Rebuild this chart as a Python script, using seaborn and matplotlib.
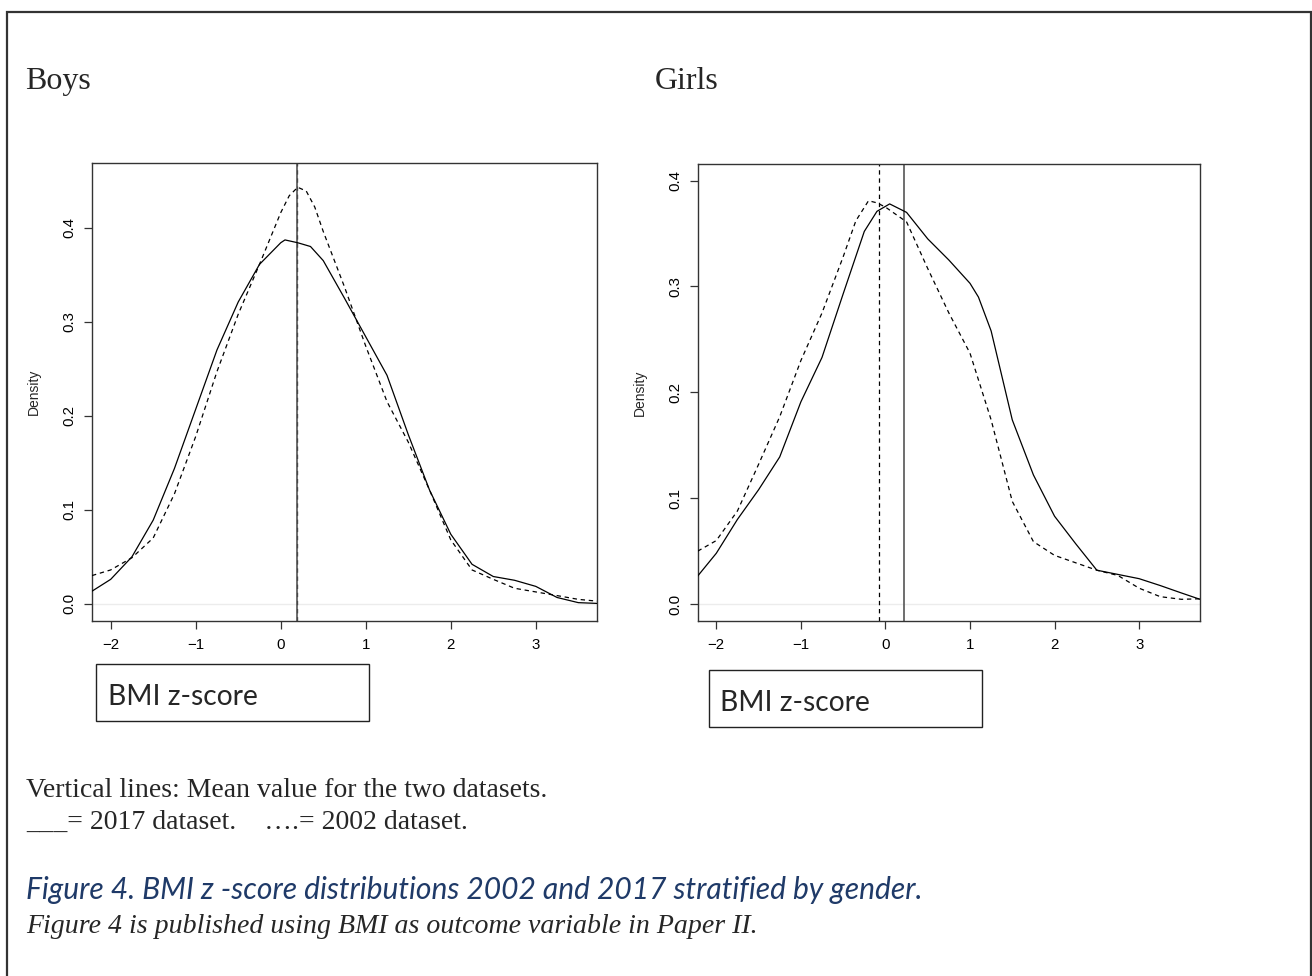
import matplotlib
matplotlib.use("Agg")
import matplotlib.pyplot as plt
from matplotlib.patches import Rectangle
import seaborn as sns
import pandas as pd

# ---------------- data ----------------
boys_x_2017 = [-2.22, -2.0, -1.75, -1.5, -1.25, -1.0, -0.75, -0.5, -0.25, 0.0, 0.05,
               0.2, 0.35, 0.5, 0.75, 1.0, 1.25, 1.5, 1.75, 2.0, 2.25, 2.5, 2.75,
               3.0, 3.25, 3.5, 3.72]
boys_2017 = [0.0134, 0.026, 0.050, 0.089, 0.144, 0.207, 0.270, 0.321, 0.361,
             0.384, 0.387, 0.384, 0.380, 0.365, 0.325, 0.284, 0.243, 0.180,
             0.121, 0.074, 0.042, 0.029, 0.025, 0.0185, 0.0067, 0.0012, 0.0004]
boys_x_2002 = [-2.22, -2.0, -1.75, -1.5, -1.25, -1.0, -0.75, -0.5, -0.25, 0.0, 0.1,
               0.2, 0.3, 0.4, 0.5, 0.75, 1.0, 1.25, 1.5, 1.75, 2.0, 2.25, 2.5,
               2.75, 3.0, 3.25, 3.5, 3.72]
boys_2002 = [0.030, 0.036, 0.049, 0.070, 0.117, 0.178, 0.247, 0.308, 0.361,
             0.416, 0.434, 0.443, 0.439, 0.422, 0.396, 0.337, 0.274, 0.215,
             0.172, 0.121, 0.068, 0.036, 0.026, 0.0165, 0.0126, 0.0087, 0.0047,
             0.0028]

girls_x_2017 = [-2.22, -2.0, -1.75, -1.5, -1.25, -1.0, -0.75, -0.5, -0.25, -0.1,
                0.05, 0.25, 0.5, 0.75, 1.0, 1.1, 1.25, 1.5, 1.75, 2.0, 2.25, 2.5,
                2.75, 3.0, 3.25, 3.5, 3.72]
girls_2017 = [0.0265, 0.048, 0.080, 0.108, 0.139, 0.191, 0.233, 0.293, 0.352,
              0.371, 0.378, 0.370, 0.345, 0.325, 0.303, 0.290, 0.258, 0.174,
              0.122, 0.083, 0.057, 0.032, 0.028, 0.024, 0.0175, 0.0105, 0.0045]
girls_x_2002 = [-2.22, -2.0, -1.75, -1.5, -1.25, -1.0, -0.75, -0.5, -0.35, -0.2,
                -0.1, 0.0, 0.25, 0.5, 0.75, 1.0, 1.25, 1.5, 1.75, 2.0, 2.25, 2.5,
                2.75, 3.0, 3.25, 3.5, 3.72]
girls_2002 = [0.050, 0.060, 0.088, 0.132, 0.177, 0.230, 0.275, 0.328, 0.362,
              0.381, 0.379, 0.375, 0.361, 0.317, 0.275, 0.237, 0.174, 0.097,
              0.059, 0.046, 0.039, 0.032, 0.027, 0.015, 0.007, 0.0045, 0.005]

boys_means = {"2017": 0.186, "2002": 0.186}
girls_means = {"2017": 0.218, "2002": -0.071}

x_ticks = [-2, -1, 0, 1, 2, 3]
boys_y_ticks = [0.0, 0.1, 0.2, 0.3, 0.4]
girls_y_ticks = [0.0, 0.1, 0.2, 0.3, 0.4]

panel_titles = ["Boys", "Girls"]
xlabel_text = "BMI z-score"
ylabel_text = "Density"
note_line1 = "Vertical lines: Mean value for the two datasets."
note_line2 = "___= 2017 dataset.    \u2026.= 2002 dataset."
caption1 = "Figure 4. BMI z -score distributions 2002 and 2017 stratified by gender."
caption2 = "Figure 4 is published using BMI as outcome variable in Paper II."

# ---------------- figure ----------------
sns.set_style("white")
plt.rcParams["font.family"] = ["Liberation Sans", "DejaVu Sans"]

W, H = 1312, 976
fig = plt.figure(figsize=(W / 100, H / 100), dpi=100)
fig.patch.set_facecolor("white")


def fx(px):
    return px / W


def fy(py):
    return 1 - py / H


def add_panel(left, right, top, bottom, x17, s2017, x02, s2002, means, yticks, ylim, dens_x):
    ax = fig.add_axes([fx(left), fy(bottom), fx(right - left), (bottom - top) / H])
    df17 = pd.DataFrame({"x": x17, "y": s2017})
    df02 = pd.DataFrame({"x": x02, "y": s2002})
    ax.axhline(0, color="#ececec", lw=1.0, zorder=1)
    sns.lineplot(data=df02, x="x", y="y", ax=ax, color="black", lw=0.9,
                 linestyle=(0, (3.5, 3)), zorder=3)
    sns.lineplot(data=df17, x="x", y="y", ax=ax, color="black", lw=0.9, zorder=3)
    ax.axvline(means["2002"], color="black", lw=0.9, linestyle=(0, (3.5, 3)), zorder=2)
    ax.axvline(means["2017"], color="#555555", lw=1.2, zorder=2)
    ax.set_xlim(-2.22, 3.72)
    ax.set_ylim(*ylim)
    ax.set_xticks(x_ticks)
    ax.set_xticklabels(["\u22122", "\u22121", "0", "1", "2", "3"])
    ax.set_yticks(yticks)
    ax.set_yticklabels([f"{v:.1f}" for v in yticks])
    ax.set_xlabel("")
    ax.set_ylabel("")
    for sp in ax.spines.values():
        sp.set_visible(True)
        sp.set_color("#333333")
        sp.set_linewidth(1.0)
    ax.tick_params(axis="both", which="major", direction="out", length=5.5,
                   width=0.9, color="#333333", labelsize=10.8, labelcolor="black",
                   bottom=True, left=True)
    ax.tick_params(axis="x", pad=6.8)
    ax.tick_params(axis="y", pad=5.6)
    for lab in ax.get_yticklabels():
        lab.set_rotation(90)
        lab.set_va("center")
        lab.set_ha("right")
    fig.text(fx(dens_x), fy((top + bottom) / 2), ylabel_text, rotation=90,
             ha="center", va="center", fontsize=10, family="Liberation Sans")
    return ax


add_panel(92, 597, 163.3, 620.7, boys_x_2017, boys_2017, boys_x_2002, boys_2002,
          boys_means, boys_y_ticks, (-0.018, 0.4685), 34.3)
add_panel(697.7, 1200, 164, 620.7, girls_x_2017, girls_2017, girls_x_2002, girls_2002,
          girls_means, girls_y_ticks, (-0.0157, 0.4157), 639.9)

# panel titles
fig.text(fx(25), fy(89), panel_titles[0], fontsize=23, family="Liberation Serif",
         va="baseline", ha="left")
fig.text(fx(655), fy(89), panel_titles[1], fontsize=23, family="Liberation Serif",
         va="baseline", ha="left")

# x-label boxes
for (bx0, by0, bx1, by1, tx, ty) in [(96, 664, 369, 720.7, 108, 705),
                                     (709, 670, 982, 726.7, 720, 711)]:
    fig.patches.append(Rectangle((fx(bx0), fy(by1)), fx(bx1 - bx0), (by1 - by0) / H,
                                 transform=fig.transFigure, fill=False,
                                 edgecolor="#222222", lw=1.0))
    fig.text(fx(tx), fy(ty), xlabel_text, fontsize=20.3, family="Lato",
             va="baseline", ha="left")

# notes and caption
fig.text(fx(26), fy(797), note_line1, fontsize=20, family="Liberation Serif",
         va="baseline", ha="left")
fig.text(fx(26), fy(829), note_line2, fontsize=20, family="Liberation Serif",
         va="baseline", ha="left")
fig.text(fx(26), fy(899), caption1, fontsize=21.6, family="Lato", style="italic",
         color="#1F3A68", va="baseline", ha="left")
fig.text(fx(26), fy(933), caption2, fontsize=20.1, family="Liberation Serif",
         style="italic", va="baseline", ha="left")

# outer frame (open at the bottom)
fig.patches.append(Rectangle((fx(7), -0.05), fx(1310.5 - 7), fy(12) + 0.05,
                             transform=fig.transFigure, fill=False,
                             edgecolor="#333333", lw=1.6, clip_on=False))

fig.savefig("out.png", dpi=100, facecolor="white")
